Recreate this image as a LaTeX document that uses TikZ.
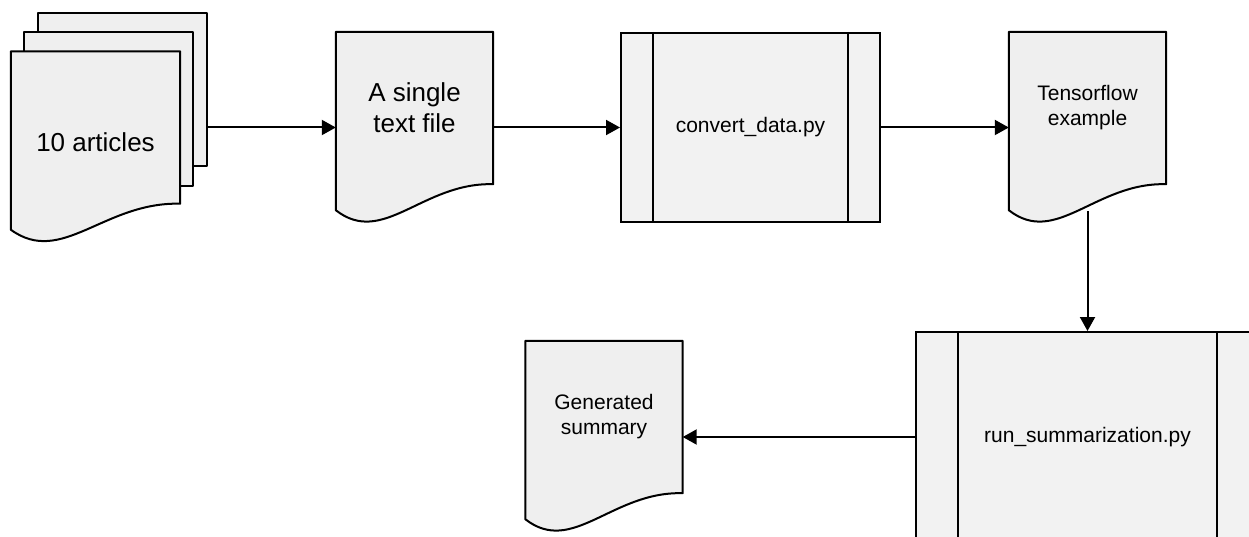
\documentclass[tikz,border=0pt]{standalone}
\usepackage{fontspec}
\setmainfont{Liberation Sans}
\usetikzlibrary{arrows.meta,calc,backgrounds}
\definecolor{docfill}{RGB}{239,239,239}
\definecolor{procfill}{RGB}{242,242,242}

% document sheet with a wavy lower edge, hung below the node's box
\newcommand\docoutline[1]{%
  \filldraw[docline] (#1.north west) -- (#1.north east) -- (#1.south east)
    .. controls ($(#1.south east)!0.45!(#1.south west)+(0,-2)$)
       and ($(#1.south west)!0.3!(#1.south east)+(0,63)$)
    .. ($(#1.south west)+(0,26)$) -- cycle;}
% the two inner bars of a predefined process box
\newcommand\procbars[1]{%
  \draw[procline] ($(#1.north west)!0.125!(#1.north east)$) -- ($(#1.south west)!0.125!(#1.south east)$);
  \draw[procline] ($(#1.north east)!0.125!(#1.north west)$) -- ($(#1.south east)!0.125!(#1.south west)$);}

\begin{document}
\begin{tikzpicture}[
  x=1pt,y=-1pt,
  bigtxt/.style={font=\fontsize{26}{31}\selectfont},
  smalltxt/.style={font=\fontsize{21}{25}\selectfont},
  docbox/.style={rectangle,minimum width=157pt,minimum height=152pt,
                 inner sep=0pt,align=center},
  docline/.style={draw=black,fill=docfill,line width=2pt,line join=round},
  proc/.style={rectangle,draw=black,fill=procfill,line width=2pt,
               inner sep=0pt,align=center,smalltxt},
  procline/.style={black,line width=2pt},
  flow/.style={-{Triangle[length=14pt,width=15pt]},line width=2pt}
]
\useasboundingbox (0,0) rectangle (1249,537);
% pile of articles
\node[docbox,minimum width=169pt,minimum height=153pt] (pileA) at (122.5,89.5) {};
\node[docbox,minimum width=169pt,minimum height=154pt] (pileB) at (108.5,109) {};
\node[docbox,bigtxt,minimum width=169pt,text height=49pt,text depth=0pt] (art) at (95.5,127.5) {10 articles};
% files and scripts
\node[docbox,bigtxt] (single) at (414.5,108) {A single\\text file};
\node[proc,minimum width=259pt,minimum height=189pt] (conv) at (750.5,127.5) {convert\_data.py};
\node[docbox,smalltxt] (tf) at (1087.5,108) {Tensorflow\\example};
\node[proc,minimum width=343pt,minimum height=210pt] (run) at (1087.5,437) {run\_summarization.py};
\node[docbox,smalltxt] (gen) at (604,417) {Generated\\summary};
\procbars{conv}
\procbars{run}
% sheets go under the texts
\begin{scope}[on background layer]
  \filldraw[docline] (pileA.north west) rectangle (pileA.south east);
  \filldraw[docline] (pileB.north west) rectangle (pileB.south east);
  \docoutline{art}
  \docoutline{single}
  \docoutline{tf}
  \docoutline{gen}
\end{scope}
% data flow
\draw[flow] (art.east -| pileA.east) -- (art.east -| single.west);
\draw[flow] (conv.west -| single.east) -- (conv.west);
\draw[flow] (conv.east) -- (conv.east -| tf.west);
\draw[flow] ([yshift=-27pt]tf.south) -- (run.north);
\draw[flow] (run.west) -- (run.west -| gen.east);
\end{tikzpicture}
\end{document}
